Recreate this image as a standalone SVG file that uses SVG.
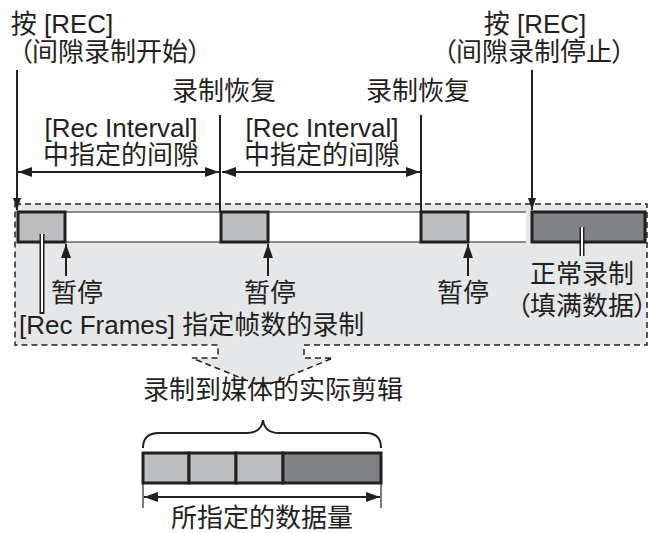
<svg xmlns="http://www.w3.org/2000/svg" width="648" height="533" viewBox="0 0 648 533">
<style>
text{font-family:"Liberation Sans","Noto Sans CJK SC",sans-serif;font-size:26px;fill:#231f20}
.m{text-anchor:middle}
.p{font-feature-settings:"palt"}
.ln{stroke:#231f20;stroke-width:2;fill:none}
.thin{stroke:#231f20;stroke-width:1.2;fill:none}
.box{stroke:#231f20;stroke-width:3}
.lt{fill:#bcbec0}
.dk{fill:#808285}
</style>
<defs>
<marker id="ah" markerUnits="userSpaceOnUse" markerWidth="14" markerHeight="10" refX="14" refY="5" orient="auto-start-reverse">
<path d="M0,0 L14,5 L0,10 Z" fill="#231f20"/>
</marker>
<marker id="ahs" markerUnits="userSpaceOnUse" markerWidth="12" markerHeight="8" refX="12" refY="4" orient="auto">
<path d="M0,0 L12,4 L0,8 Z" fill="#231f20"/>
</marker>
</defs>

<g id="region">
<path d="M15,204 L647,204 L647,345 L304,345 L304,358 L333,358 L263,387 L192,358 L218,358 L218,345 L15,345 Z" fill="#e6e7e8" stroke="#231f20" stroke-width="1.5" stroke-dasharray="6,4"/>
</g>

<g id="band">
<rect x="18" y="212" width="508" height="30" fill="#fff"/>
<line class="thin" x1="18" y1="212" x2="526" y2="212"/>
<line class="thin" x1="18" y1="242" x2="526" y2="242"/>
</g>

<g id="seg1"><rect class="box lt" x="18" y="212" width="47" height="30"/></g>
<g id="seg2"><rect class="box lt" x="221" y="212" width="47" height="30"/></g>
<g id="seg3"><rect class="box lt" x="421" y="212" width="47" height="30"/></g>
<g id="seg4"><rect class="box dk" x="532" y="212" width="113" height="30"/></g>

<g id="connectors">
<line class="ln" x1="17" y1="70" x2="17" y2="210" marker-end="url(#ahs)"/>
<line class="ln" x1="532" y1="70" x2="532" y2="210" marker-end="url(#ahs)"/>
<line class="ln" x1="220" y1="115" x2="220" y2="212"/>
<line class="ln" x1="421" y1="115" x2="421" y2="212"/>
<line class="ln" x1="18" y1="172" x2="219" y2="172" marker-start="url(#ah)" marker-end="url(#ah)"/>
<line class="ln" x1="222" y1="172" x2="420" y2="172" marker-start="url(#ah)" marker-end="url(#ah)"/>
<line class="ln" x1="66" y1="276" x2="66" y2="244" marker-end="url(#ah)"/>
<line class="ln" x1="268" y1="276" x2="268" y2="244" marker-end="url(#ah)"/>
<line class="ln" x1="468" y1="276" x2="468" y2="244" marker-end="url(#ah)"/>
<line x1="42" y1="234" x2="42" y2="314" stroke="#231f20" stroke-width="5"/>
<line x1="42" y1="234" x2="42" y2="312" stroke="#fff" stroke-width="2"/>
<line x1="582" y1="227" x2="582" y2="256" stroke="#231f20" stroke-width="5"/>
<line x1="582" y1="227" x2="582" y2="256" stroke="#fff" stroke-width="2"/>
<path class="ln" d="M143,448 C143,438 149,433 159,433 L247,433 C257,433 262,428 263,420 C264,428 269,433 279,433 L366,433 C376,433 381,438 381,448"/>
<line class="thin" x1="143" y1="483" x2="143" y2="508"/>
<line class="thin" x1="381" y1="483" x2="381" y2="508"/>
<line class="ln" x1="144" y1="497" x2="380" y2="497" marker-start="url(#ah)" marker-end="url(#ah)"/>
</g>

<g id="result">
<rect class="box lt" x="143" y="453" width="46" height="30"/>
<rect class="box lt" x="189" y="453" width="47" height="30"/>
<rect class="box lt" x="236" y="453" width="47" height="30"/>
<rect class="box dk" x="283" y="453" width="98" height="30"/>
</g>

<g id="labels">
<text class="m" x="62" y="33">按 [REC]</text>
<text class="m p" x="110" y="61">（间隙录制开始）</text>
<text class="m" x="535" y="33">按 [REC]</text>
<text class="m p" x="534" y="61">（间隙录制停止）</text>
<text class="m" x="224" y="100">录制恢复</text>
<text class="m" x="418" y="100">录制恢复</text>
<text class="m" x="121" y="137">[Rec Interval]</text>
<text class="m" x="121" y="164">中指定的间隙</text>
<text class="m" x="322" y="137">[Rec Interval]</text>
<text class="m" x="322" y="164">中指定的间隙</text>
<text class="m" x="77" y="302">暂停</text>
<text class="m" x="270" y="302">暂停</text>
<text class="m" x="463" y="302">暂停</text>
<text class="m" x="582" y="283">正常录制</text>
<text class="m p" x="582" y="315">（填满数据）</text>
<text x="19" y="334">[Rec Frames] 指定帧数的录制</text>
<text class="m" x="273" y="399">录制到媒体的实际剪辑</text>
<text class="m" x="262" y="527">所指定的数据量</text>
</g>
</svg>
